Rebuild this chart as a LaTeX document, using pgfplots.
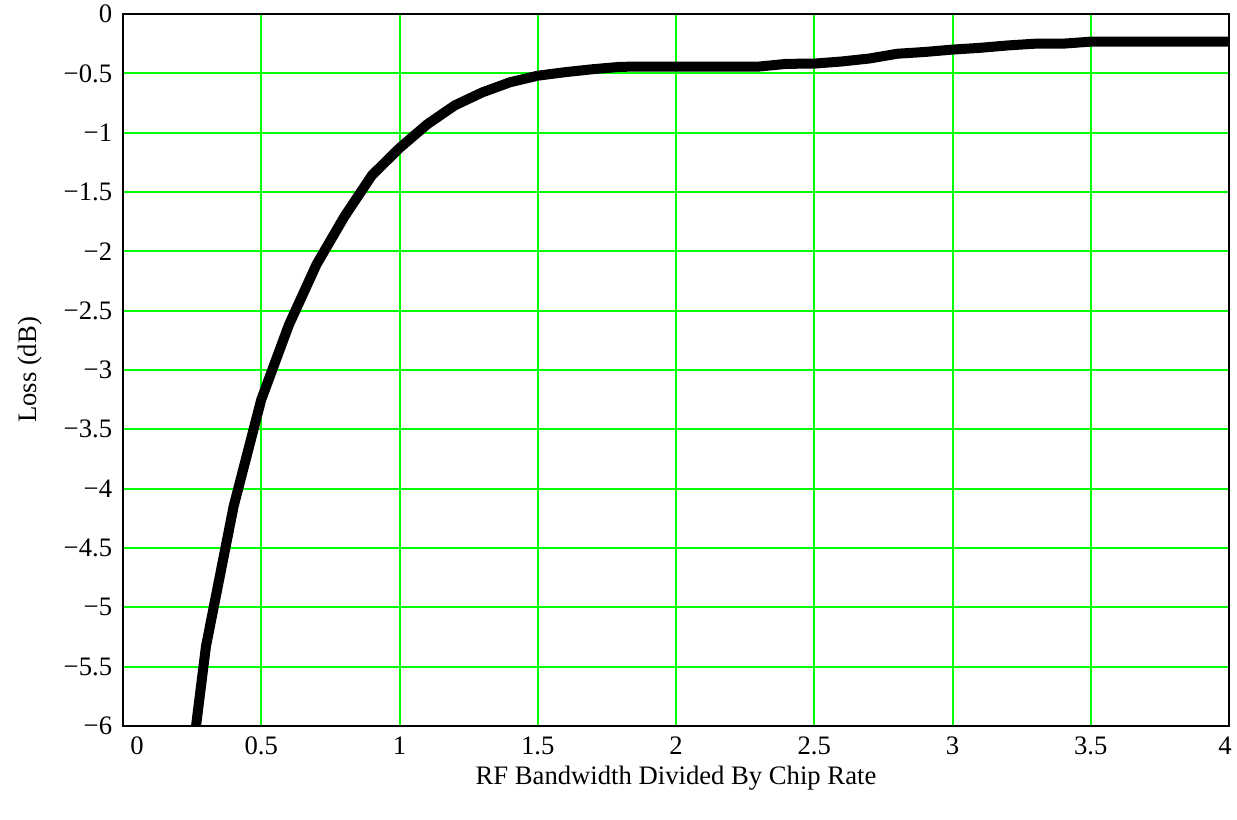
\documentclass[border=0pt]{standalone}
\usepackage{pgfplots}
\pgfplotsset{compat=1.18}
\usepackage{fontspec}
\setmainfont{Liberation Serif}
\definecolor{gridgreen}{RGB}{0,255,0}
\begin{document}
\fontsize{16}{19}\selectfont
\begin{tikzpicture}
\begin{axis}[
  at={(0,0)}, anchor=south west,
  scale only axis,
  width=663.6pt, height=427.2pt,
  xmin=0, xmax=4, ymin=-6, ymax=0,
  xtick={0,0.5,1,1.5,2,2.5,3,3.5,4},
  xticklabels={\hspace*{16.8pt}0,0.5,1,1.5,2,2.5,3,3.5,4\hspace*{4.8pt}},
  ytick={-6,-5.5,-5,-4.5,-4,-3.5,-3,-2.5,-2,-1.5,-1,-0.5,0},
  yticklabels={−6,−5.5,−5,−4.5,−4,−3.5,−3,−2.5,−2,−1.5,−1,−0.5,0},
  major tick length=0pt,
  xmajorgrids, ymajorgrids,
  grid style={draw=gridgreen, line width=1.2pt},
  major grid style={draw=gridgreen, line width=1.2pt},
  axis line style={black, line width=1.3pt},
  xticklabel style={font=\fontsize{16}{19}\selectfont, yshift=-1pt},
  yticklabel style={font=\fontsize{16}{19}\selectfont, xshift=-1pt},
  xlabel={RF Bandwidth Divided By Chip Rate},
  ylabel={Loss (dB)},
  label style={font=\fontsize{16}{19}\selectfont},
  xlabel style={yshift=4.4pt},
  ylabel style={yshift=2.2pt},
]
\addplot[black, line width=6pt, line join=round] coordinates {
(0.2,-7.2) (0.3,-5.33) (0.4,-4.15) (0.5,-3.25) (0.6,-2.62) (0.7,-2.11)
(0.8,-1.71) (0.9,-1.36) (1.0,-1.13) (1.1,-0.93) (1.2,-0.77) (1.3,-0.66)
(1.4,-0.575) (1.5,-0.52) (1.6,-0.49) (1.7,-0.465) (1.8,-0.445) (1.9,-0.443)
(2.0,-0.443) (2.1,-0.443) (2.2,-0.443) (2.3,-0.443) (2.4,-0.42) (2.5,-0.418)
(2.6,-0.40) (2.7,-0.375) (2.8,-0.335) (2.9,-0.32) (3.0,-0.30) (3.1,-0.285)
(3.2,-0.265) (3.3,-0.25) (3.4,-0.25) (3.5,-0.233) (4.0,-0.233)
};
\end{axis}
\pgfresetboundingbox
\path[use as bounding box] (-73.8pt,-56.4pt) rectangle (668.4pt,435.6pt);
\end{tikzpicture}
\end{document}
